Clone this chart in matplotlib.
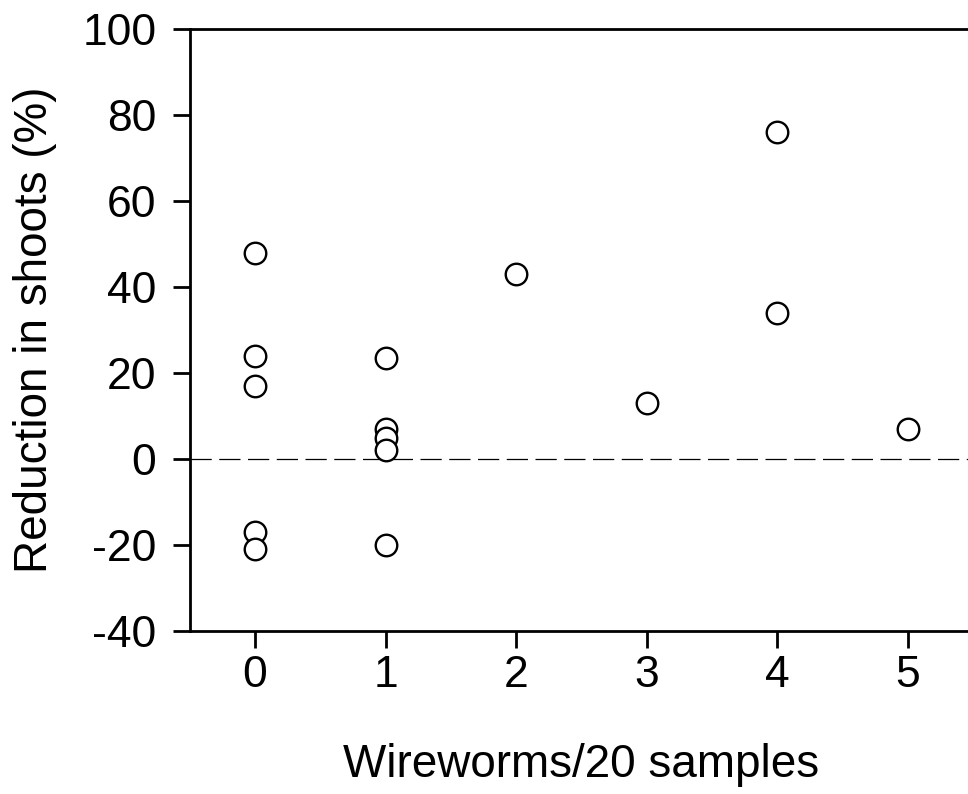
import matplotlib
matplotlib.use("Agg")
import matplotlib.pyplot as plt

# Данные: число проволочников на 20 проб и снижение числа побегов (%)
wireworms = [0, 0, 0, 0, 0,
             1, 1, 1, 1, 1,
             2, 3, 4, 4, 5]
reduction = [48, 24, 17, -17, -21,
             23.5, 7, 5, 2, -20,
             43, 13, 76, 34, 7]

x_ticks = [0, 1, 2, 3, 4, 5]
y_ticks = [-40, -20, 0, 20, 40, 60, 80, 100]

plt.rcParams["font.family"] = ["Liberation Sans", "DejaVu Sans"]
plt.rcParams["axes.unicode_minus"] = False

fig = plt.figure(figsize=(9.68, 7.94), dpi=100)
# правая граница осей уходит за край рисунка, как в оригинале
ax = fig.add_axes([0.196, 0.2053, 0.809, 0.758])

ax.axhline(0, color="black", linestyle=(0, (17, 6)), linewidth=0.9, zorder=1)
ax.plot(wireworms, reduction, linestyle="none", marker="o",
        markersize=15.5, markerfacecolor="white", markeredgecolor="black",
        markeredgewidth=1.7, zorder=3)

ax.set_xlim(-0.5, 5.5)
ax.set_ylim(-40, 100)
ax.set_xticks(x_ticks)
ax.set_yticks(y_ticks)

for side in ["left", "top", "bottom", "right"]:
    ax.spines[side].set_linewidth(2)

ax.tick_params(axis="both", direction="out", length=12, width=2,
               labelsize=32)
ax.tick_params(axis="x", pad=5)
ax.tick_params(axis="y", pad=12)
ax.set_xlabel("Wireworms/20 samples", fontsize=33, labelpad=34)
ax.set_ylabel("Reduction in shoots (%)", fontsize=33, labelpad=18)

fig.savefig("out.png", dpi=100)
plt.close(fig)
